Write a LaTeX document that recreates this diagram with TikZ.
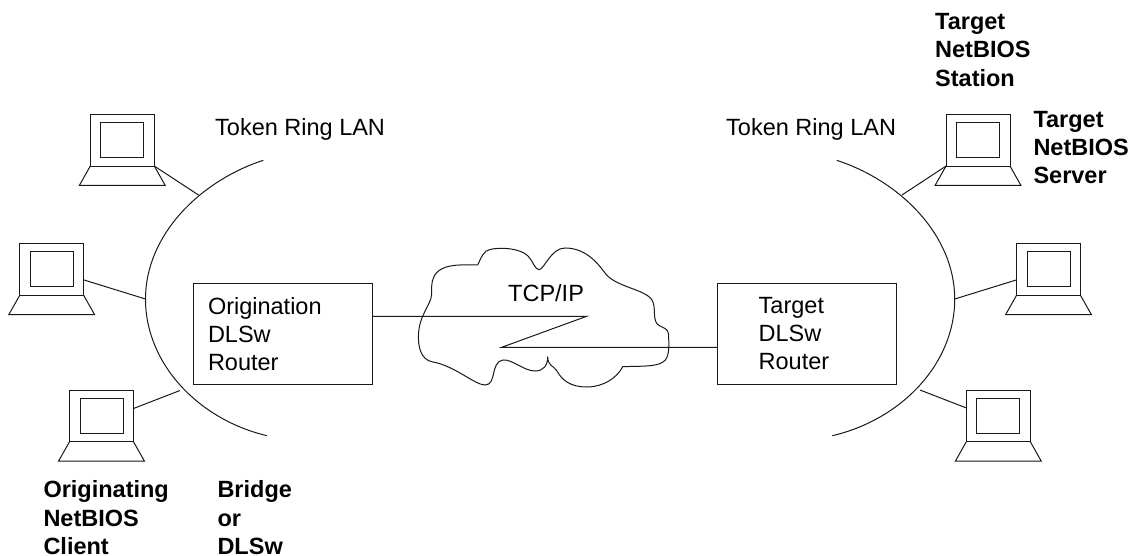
\documentclass[tikz,border=0pt]{standalone}
\usepackage{fontspec}
\setmainfont{Liberation Sans}
\tikzset{
    wire/.style={line width=1pt,black!90!white},
    label/.style={anchor=north west,inner sep=0pt,align=left,font=\fontsize{23.5}{28}\selectfont},
    boldlabel/.style={label,font=\fontsize{23.5}{28.3}\selectfont\bfseries},
    router/.style={wire,draw,text=black,minimum width=179pt,minimum height=100.7pt,outer sep=0pt,align=left,
        font=\fontsize{23.5}{28}\selectfont},
    pcframe/.style={wire,draw,minimum width=64pt,minimum height=51.7pt,inner sep=0pt,outer sep=0pt},
    pcscreen/.style={wire,draw,minimum width=43pt,minimum height=35pt,inner sep=0pt,outer sep=0pt},
}
\begin{document}
\begin{tikzpicture}[x=1pt,y=-1pt]
    \useasboundingbox (0, 0) rectangle (1133, 556);

    % token rings
    \draw[wire]
        (263.3, 160.3) .. controls (200, 181) and (145.5, 235) .. (145.5, 299)
        .. controls (145.5, 365) and (200, 420) .. (267, 435.7);
    \draw[wire]
        (836.7, 160.3) .. controls (900, 181) and (954.7, 235) .. (954.7, 299)
        .. controls (954.7, 365) and (900, 420) .. (832.3, 435.7);

    \coordinate (tap1) at (198.5, 195);
    \coordinate (tap2) at (145.5, 299);
    \coordinate (tap3) at (180, 390.5);
    \coordinate (tap4) at (902, 195);
    \coordinate (tap5) at (954.7, 299);
    \coordinate (tap6) at (920, 390);

    % computers
    \foreach \pc/\x/\y in {pc1/122.3/140.2, pc2/51.7/269.5, pc3/101.5/415.9,
                           pc4/978/140.2, pc5/1048.5/269.5, pc6/998.3/415.9} {
        \node[pcframe] (\pc) at (\x, \y) {};
        \node[pcscreen] (\pc s) at (\x, \y) {};
        \draw[wire] (\pc.south west) -- ++(-10.9, 19.3) -- ++(85.8, 0) -- (\pc.south east);
    }

    \draw[wire] (pc1.south east) -- (tap1);
    \draw[wire] (pc2.-18) -- (tap2);
    \draw[wire] (pc3.13) -- (tap3);
    \draw[wire] (pc4.south west) -- (tap4);
    \draw[wire] (pc5.198) -- (tap5);
    \draw[wire] (pc6.166) -- (tap6);

    % routers
    \node[router,text width=149pt,inner xsep=15pt] (orig) at (282.5, 333.7) {Origination\\DLSw\\Router};
    \node[router,text width=97pt,inner xsep=41pt] (targ) at (807.2, 333.7) {Target\\DLSw\\Router};

    % cloud
    \draw[wire]
        (477.7, 265) .. controls (481, 258) and (484, 250) .. (490, 249.5)
        .. controls (500, 247) and (520, 248) .. (528, 256)
        .. controls (533, 261) and (535, 269.7) .. (539, 269.7)
        .. controls (544, 269.7) and (551, 248) .. (565, 248)
        .. controls (585, 248) and (597, 262) .. (605, 273)
        .. controls (615, 287) and (645, 289) .. (652, 300)
        .. controls (657, 308) and (651, 322) .. (660, 326)
        .. controls (664, 328) and (668, 329) .. (668.5, 334)
        .. controls (669, 345) and (670, 358) .. (663, 362)
        .. controls (656, 367) and (640, 366) .. (622.7, 366.7)
        .. controls (617, 378) and (603, 387) .. (587, 387)
        .. controls (570, 387) and (562, 380) .. (557, 371)
        .. controls (553, 365) and (547.7, 366) .. (547.7, 356.7)
        .. controls (547.7, 366) and (543, 371) .. (535, 371)
        .. controls (524, 371) and (512, 359) .. (503, 360)
        .. controls (490, 362) and (497, 385) .. (485, 385)
        .. controls (475, 385) and (455, 366) .. (433, 362)
        .. controls (420, 360) and (418, 345) .. (418.5, 335)
        .. controls (419, 315) and (431, 305) .. (431.5, 295)
        .. controls (432, 285) and (428, 266) .. (460, 265)
        -- (477.7, 265);

    % link through the cloud
    \coordinate (zig1) at (586.7, 316.3);
    \coordinate (zig2) at (501.7, 347.3);
    \draw[wire] (orig.east |- zig1) -- (zig1) -- (zig2) -- (zig2 -| targ.west);

    \node[label] (tcp) at (508, 283.8) {TCP/IP};
    \node[label] (ring1) at (215, 118.1) {Token Ring LAN};
    \node[label] (ring2) at (726, 118.1) {Token Ring LAN};

    \node[boldlabel] (station) at (935, 13.1) {Target\\NetBIOS\\Station};
    \node[boldlabel] (server) at (1033.3, 110.8) {Target\\NetBIOS\\Server};
    \node[boldlabel] (client) at (43.3, 480.6) {Originating\\NetBIOS\\Client};
    \node[boldlabel] (bridge) at (217.3, 480.6) {Bridge\\or\\DLSw};
\end{tikzpicture}
\end{document}
